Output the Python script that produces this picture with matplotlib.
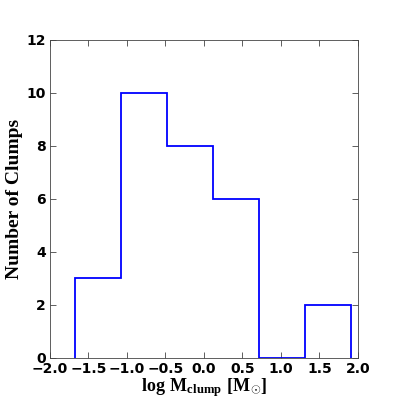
import numpy as np
from matplotlib import pyplot as plt

# bin edges and clump counts
bin_edges = [-1.675, -1.078, -0.481, 0.117, 0.714, 1.312, 1.909]
counts = [3, 10, 8, 6, 0, 2]

xticks = [-2.0, -1.5, -1.0, -0.5, 0.0, 0.5, 1.0, 1.5, 2.0]
yticks = [0, 2, 4, 6, 8, 10, 12]

plt.rcParams['mathtext.fontset'] = 'custom'
plt.rcParams['mathtext.rm'] = 'Liberation Serif'
plt.rcParams['mathtext.bf'] = 'Liberation Serif:bold'
plt.rcParams['xtick.direction'] = 'in'
plt.rcParams['ytick.direction'] = 'in'

fig = plt.figure(figsize=(3.99, 3.99), dpi=100)
ax = fig.add_axes([0.125, 0.103, 0.772, 0.797])

centers = (np.array(bin_edges[:-1]) + np.array(bin_edges[1:])) / 2
ax.hist(centers, bins=bin_edges, weights=counts, histtype='step',
        color='blue', linewidth=1.3)

ax.set_xlim(-2, 2)
ax.set_ylim(0, 12)
ax.set_xticks(xticks)
ax.set_yticks(yticks)
ax.set_xticklabels(['\u22122.0', '\u22121.5', '\u22121.0', '\u22120.5', '0.0',
                    '0.5', '1.0', '1.5', '2.0'])
ax.tick_params(top=True, right=True, length=4, width=0.6, labelsize=10,
               color='#444444', pad=3)
for lab in ax.get_xticklabels() + ax.get_yticklabels():
    lab.set_fontweight('bold')
for s in ax.spines.values():
    s.set_linewidth(0.6)
    s.set_color('#444444')

ax.set_xlabel(r'$\mathbf{log\ M_{clump}\ [M_{\odot}]}$', fontsize=13,
              labelpad=0)
ax.set_ylabel('Number of Clumps', family='Liberation Serif',
              fontweight='bold', fontsize=14, labelpad=2)

plt.savefig('out.png', dpi=100)
